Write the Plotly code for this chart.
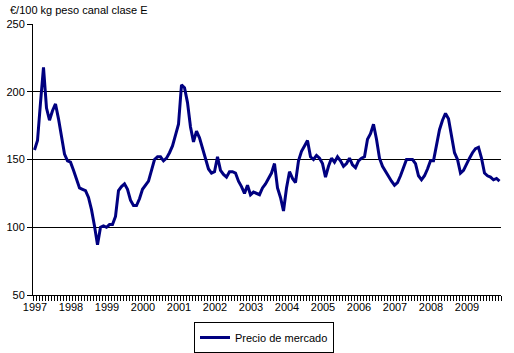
import plotly.graph_objects as go

years = ["1997", "1998", "1999", "2000", "2001", "2002", "2003",
         "2004", "2005", "2006", "2007", "2008", "2009"]

# Monthly market price, Jan 1997 .. Dec 2009 (EUR/100 kg carcass weight, class E)
precio = [
    # 1997
    157, 164, 192, 218, 188, 179, 186, 191, 180, 166, 154, 149,
    # 1998
    148, 142, 136, 129, 128, 127, 122, 113, 101, 87, 100, 101,
    # 1999
    100, 102, 102, 108, 127, 130, 132, 128, 120, 116, 116, 121,
    # 2000
    128, 131, 134, 142, 150, 152, 152, 149, 151, 155, 160, 168,
    # 2001
    176, 205, 203, 192, 174, 163, 171, 166, 158, 150, 143, 140,
    # 2002
    141, 152, 142, 139, 137, 141, 141, 140, 134, 130, 125, 131,
    # 2003
    124, 126, 125, 124, 129, 132, 136, 140, 147, 129, 122, 112,
    # 2004
    129, 141, 136, 133, 149, 156, 160, 164, 152, 150, 153, 151,
    # 2005
    147, 137, 145, 151, 148, 152, 149, 145, 147, 151, 146, 144,
    # 2006
    149, 151, 152, 165, 169, 176, 165, 151, 145, 141, 138, 134,
    # 2007
    131, 133, 138, 144, 150, 150, 150, 147, 138, 135, 138, 143,
    # 2008
    149, 149, 162, 172, 179, 184, 180, 168, 155, 150, 140, 142,
    # 2009
    147, 151, 155, 158, 159, 151, 140, 138, 137, 135, 136, 134,
]

n = len(precio)
x_pos = [i + 0.5 for i in range(n)]
month_ticks = list(range(n + 1))
month_text = [years[i // 12] if (i % 12 == 0 and i // 12 < len(years)) else ""
              for i in month_ticks]

FONT = "Liberation Sans, Arial, sans-serif"

fig = go.Figure()
fig.add_trace(go.Scatter(
    x=x_pos, y=precio, mode="lines", name="Precio de mercado",
    line=dict(color="#000080", width=3),
))

W, H = 514, 353
L, R, T, B = 33, 13, 24, 58
pw = W - L - R
ph = H - T - B

fig.update_layout(
    width=W, height=H,
    margin=dict(l=L, r=R, t=T, b=B, pad=0, autoexpand=False),
    paper_bgcolor="white", plot_bgcolor="white",
    font=dict(family=FONT, size=11, color="black"),
    showlegend=True,
    legend=dict(
        orientation="h",
        xref="container", x=264 / W, xanchor="center",
        yref="container", y=1 - 322 / H, yanchor="top",
        bordercolor="black", borderwidth=1,
        font=dict(family=FONT, size=11, color="black"),
        itemwidth=30,
    ),
    xaxis=dict(
        range=[0, n],
        tickmode="array", tickvals=month_ticks, ticktext=month_text,
        ticks="outside", ticklen=5, tickcolor="black", tickwidth=1,
        ticklabelshift=2, ticklabelstandoff=-3,
        showline=True, linecolor="black", linewidth=1,
        showgrid=False, zeroline=False, automargin=False,
        tickfont=dict(family=FONT, size=11, color="black"),
    ),
    yaxis=dict(
        range=[50, 250], dtick=50, tick0=50,
        ticks="outside", ticklen=5, tickcolor="black", tickwidth=1,
        showline=True, linecolor="black", linewidth=1,
        showgrid=True, gridcolor="black", gridwidth=1,
        zeroline=False, automargin=False,
        tickfont=dict(family=FONT, size=11, color="black"),
    ),
    annotations=[dict(
        text="€/100 kg peso canal clase E",
        xref="paper", yref="paper",
        x=(8 - L) / pw, xanchor="left",
        y=(H - B - 10) / ph, yanchor="middle",
        showarrow=False,
        font=dict(family=FONT, size=11, color="black"),
    )],
)

fig.write_html("out.html")
